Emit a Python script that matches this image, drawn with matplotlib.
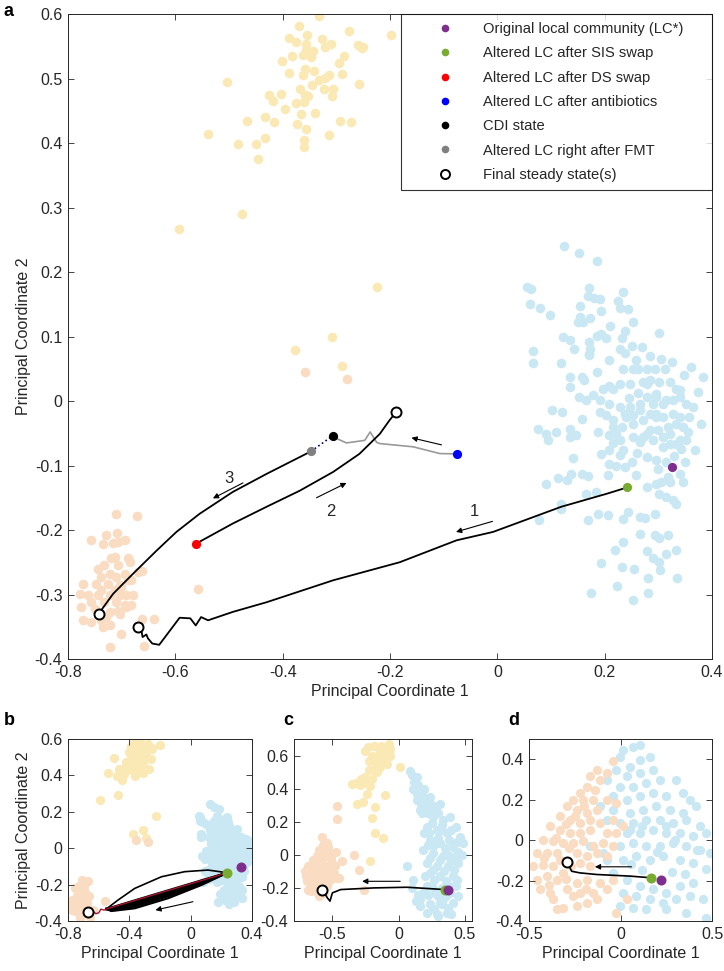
import numpy as np
import matplotlib
matplotlib.use('Agg')
import matplotlib.pyplot as plt
from matplotlib.lines import Line2D

plt.rcParams['font.family'] = ['Liberation Sans', 'DejaVu Sans']
plt.rcParams['axes.unicode_minus'] = False

YEL = '#FBE9B5'
PEA = '#F9DCC2'
BLU = '#C9E8F4'
PURPLE = '#7E2F8E'
GREEN = '#77AC30'
TXT = '#262626'
FS = 11.5

# ---- PCoA clouds, panels a and b (same embedding) ----
yellow_ab = np.array([
    [-0.333, 0.597], [-0.370, 0.582], [-0.276, 0.573], [-0.199, 0.568], [-0.389, 0.563],
    [-0.376, 0.557], [-0.354, 0.567], [-0.327, 0.562], [-0.356, 0.554], [-0.310, 0.553],
    [-0.322, 0.549], [-0.260, 0.552], [-0.250, 0.549], [-0.252, 0.547], [-0.357, 0.544],
    [-0.343, 0.542], [-0.362, 0.537], [-0.347, 0.533], [-0.383, 0.535], [-0.286, 0.535],
    [-0.295, 0.524], [-0.402, 0.527], [-0.358, 0.515], [-0.341, 0.511], [-0.389, 0.508],
    [-0.363, 0.506], [-0.314, 0.506], [-0.289, 0.507], [-0.503, 0.495], [-0.332, 0.497],
    [-0.322, 0.501], [-0.345, 0.490], [-0.258, 0.491], [-0.367, 0.483], [-0.323, 0.483],
    [-0.307, 0.483], [-0.358, 0.474], [-0.352, 0.473], [-0.308, 0.473], [-0.425, 0.474],
    [-0.404, 0.476], [-0.418, 0.465], [-0.375, 0.462], [-0.361, 0.464], [-0.395, 0.452],
    [-0.339, 0.447], [-0.366, 0.445], [-0.432, 0.441], [-0.466, 0.434], [-0.416, 0.432],
    [-0.374, 0.429], [-0.294, 0.434], [-0.272, 0.433], [-0.357, 0.421], [-0.540, 0.414],
    [-0.314, 0.413], [-0.432, 0.407], [-0.361, 0.405], [-0.483, 0.399], [-0.450, 0.398],
    [-0.361, 0.394], [-0.446, 0.375], [-0.476, 0.290], [-0.593, 0.266], [-0.225, 0.177],
    [-0.309, 0.099], [-0.377, 0.079], [-0.290, 0.055]])

peach_ab = np.array([
    [-0.711, -0.175], [-0.671, -0.178], [-0.729, -0.208], [-0.708, -0.205], [-0.757, -0.216],
    [-0.735, -0.221], [-0.716, -0.220], [-0.707, -0.219], [-0.693, -0.215], [-0.719, -0.244],
    [-0.713, -0.242], [-0.688, -0.244], [-0.685, -0.249], [-0.732, -0.255], [-0.744, -0.260],
    [-0.707, -0.255], [-0.722, -0.268], [-0.738, -0.273], [-0.710, -0.273], [-0.694, -0.268],
    [-0.688, -0.278], [-0.682, -0.278], [-0.670, -0.265], [-0.663, -0.264], [-0.772, -0.283],
    [-0.747, -0.283], [-0.726, -0.283], [-0.704, -0.286], [-0.738, -0.293], [-0.713, -0.293],
    [-0.701, -0.288], [-0.778, -0.299], [-0.763, -0.301], [-0.744, -0.301], [-0.722, -0.301],
    [-0.704, -0.301], [-0.691, -0.301], [-0.679, -0.301], [-0.757, -0.312], [-0.732, -0.312],
    [-0.710, -0.312], [-0.694, -0.317], [-0.682, -0.317], [-0.775, -0.319], [-0.750, -0.322],
    [-0.722, -0.327], [-0.707, -0.325], [-0.691, -0.319], [-0.772, -0.340], [-0.757, -0.343],
    [-0.738, -0.340], [-0.729, -0.335], [-0.722, -0.348], [-0.735, -0.350], [-0.704, -0.330],
    [-0.663, -0.338], [-0.640, -0.338], [-0.701, -0.361], [-0.722, -0.381], [-0.658, -0.380],
    [-0.558, -0.292], [-0.359, 0.045], [-0.281, 0.034]])

blue_ab = np.array([
    [0.125, 0.241], [0.152, 0.229], [0.186, 0.217], [0.055, 0.177], [0.062, 0.173],
    [0.171, 0.175], [0.169, 0.163], [0.180, 0.160], [0.191, 0.158], [0.235, 0.169],
    [0.225, 0.155], [0.060, 0.151], [0.080, 0.144], [0.154, 0.147], [0.228, 0.144],
    [0.244, 0.142], [0.193, 0.140], [0.098, 0.133], [0.154, 0.131], [0.173, 0.129],
    [0.150, 0.123], [0.160, 0.122], [0.252, 0.122], [0.210, 0.117], [0.238, 0.109],
    [0.301, 0.105], [0.123, 0.100], [0.186, 0.101], [0.193, 0.104], [0.203, 0.098],
    [0.135, 0.094], [0.232, 0.097], [0.170, 0.092], [0.269, 0.084], [0.067, 0.077],
    [0.142, 0.080], [0.172, 0.081], [0.228, 0.080], [0.237, 0.074], [0.171, 0.073],
    [0.067, 0.059], [0.118, 0.059], [0.171, 0.071], [0.209, 0.064], [0.258, 0.063],
    [0.234, 0.050], [0.253, 0.050], [0.262, 0.050], [0.278, 0.050], [0.293, 0.050],
    [0.312, 0.049], [0.347, 0.041], [0.361, 0.053], [0.383, 0.037], [0.135, 0.037],
    [0.161, 0.032], [0.158, 0.037], [0.185, 0.045], [0.197, 0.019], [0.209, 0.024],
    [0.216, 0.019], [0.228, 0.027], [0.247, 0.027], [0.271, 0.029], [0.284, 0.032],
    [0.302, 0.029], [0.321, 0.029], [0.333, 0.019], [0.340, 0.017], [0.374, 0.014],
    [0.135, 0.022], [0.153, 0.006], [0.166, 0.001], [0.178, 0.009], [0.191, 0.001],
    [0.209, -0.004], [0.228, -0.009], [0.247, -0.009], [0.265, -0.004], [0.278, 0.006],
    [0.296, 0.006], [0.315, 0.001], [0.327, 0.001], [0.340, 0.006], [0.352, -0.004],
    [0.102, -0.014], [0.121, -0.017], [0.157, -0.028], [0.191, -0.017], [0.203, -0.022],
    [0.216, -0.030], [0.237, -0.020], [0.253, -0.022], [0.265, -0.014], [0.271, -0.030],
    [0.284, -0.020], [0.296, -0.020], [0.309, -0.025], [0.327, -0.020], [0.340, -0.025],
    [0.358, -0.025], [0.380, -0.035], [0.076, -0.043], [0.091, -0.051], [0.094, -0.061],
    [0.110, -0.048], [0.135, -0.043], [0.147, -0.053], [0.135, -0.056], [0.188, -0.048],
    [0.209, -0.053], [0.216, -0.040], [0.228, -0.061], [0.253, -0.056], [0.265, -0.064],
    [0.278, -0.051], [0.290, -0.061], [0.309, -0.056], [0.321, -0.066], [0.340, -0.061],
    [0.355, -0.048], [0.194, -0.082], [0.209, -0.076], [0.228, -0.084], [0.209, -0.097],
    [0.222, -0.100], [0.237, -0.102], [0.141, -0.088], [0.157, -0.113], [0.169, -0.117],
    [0.206, -0.115], [0.259, -0.115], [0.091, -0.128], [0.113, -0.120], [0.129, -0.123],
    [0.138, -0.113], [0.278, -0.133], [0.296, -0.128], [0.305, -0.126], [0.321, -0.126],
    [0.346, -0.126], [0.302, -0.144], [0.315, -0.149], [0.327, -0.154], [0.333, -0.159],
    [0.166, -0.144], [0.184, -0.141], [0.119, -0.159], [0.119, -0.167], [0.078, -0.185],
    [0.169, -0.184], [0.188, -0.175], [0.206, -0.177], [0.235, -0.183], [0.243, -0.172],
    [0.265, -0.180], [0.275, -0.182], [0.293, -0.175], [0.318, -0.208], [0.265, -0.206],
    [0.293, -0.208], [0.302, -0.213], [0.234, -0.219], [0.219, -0.231], [0.278, -0.233],
    [0.290, -0.244], [0.302, -0.250], [0.315, -0.237], [0.333, -0.231], [0.193, -0.251],
    [0.233, -0.257], [0.254, -0.260], [0.304, -0.262], [0.335, -0.275], [0.281, -0.275],
    [0.223, -0.287], [0.281, -0.297], [0.175, -0.297], [0.252, -0.308], [0.278, 0.027],
    [0.296, 0.011], [0.309, -0.004], [0.333, -0.035], [0.296, -0.025], [0.284, -0.045],
    [0.321, -0.051], [0.333, -0.066], [0.309, -0.071], [0.265, -0.061], [0.253, -0.035],
    [0.240, -0.025], [0.222, -0.051], [0.234, -0.076], [0.278, -0.087], [0.296, -0.092],
    [0.271, -0.056], [0.368, -0.076], [0.318, -0.118], [0.340, -0.113], [0.300, -0.105],
    [0.330, -0.085], [0.350, -0.095], [0.285, 0.070], [0.305, 0.065], [0.325, 0.060],
    [0.290, -0.005], [0.318, -0.040], [0.346, -0.040], [0.300, -0.045], [0.260, -0.080],
    [0.250, -0.095], [0.315, -0.095], [0.343, -0.075], [0.352, -0.060], [0.365, -0.010],
    [0.245, 0.005], [0.262, 0.012], [0.232, -0.040], [0.215, -0.065], [0.250, 0.085]])

# ---- panel c clouds ----
yellow_c = np.array([
    [-0.188, 0.66], [-0.138, 0.63], [-0.088, 0.654], [-0.063, 0.64], [-0.113, 0.59],
    [-0.163, 0.57], [-0.088, 0.55], [-0.138, 0.53], [-0.188, 0.51], [-0.225, 0.57],
    [-0.25, 0.63], [-0.063, 0.60], [0.008, 0.53], [-0.263, 0.45], [-0.325, 0.434],
    [-0.213, 0.414], [-0.238, 0.37], [-0.313, 0.31], [-0.105, 0.36], [-0.175, 0.29],
    [-0.2, 0.22], [-0.175, 0.134], [-0.118, 0.10], [-0.213, -0.04], [-0.288, 0.42],
    [-0.15, 0.61], [-0.10, 0.62], [-0.20, 0.60], [-0.12, 0.56], [-0.17, 0.54],
    [-0.22, 0.51], [-0.25, 0.47], [-0.28, 0.46], [-0.20, 0.46], [-0.23, 0.43],
    [-0.16, 0.50], [-0.07, 0.67], [-0.13, 0.66], [-0.23, 0.65], [-0.30, 0.44],
    [-0.35, 0.43], [-0.27, 0.32]])
peach_c = np.array([
    [-0.4625, 0.296], [-0.4675, 0.214], [-0.575, 0.11], [-0.5375, 0.07], [-0.475, 0.02],
    [-0.425, -0.04], [-0.3375, 0.0], [-0.3, -0.09], [-0.2625, -0.21], [-0.6875, -0.07],
    [-0.65, -0.03], [-0.6125, -0.01], [-0.575, 0.01], [-0.55, 0.03], [-0.525, 0.02],
    [-0.5125, -0.02], [-0.6375, -0.11], [-0.5875, -0.09], [-0.5375, -0.07], [-0.4875, -0.11],
    [-0.7, -0.13], [-0.6625, -0.16], [-0.6125, -0.15], [-0.5625, -0.14], [-0.525, -0.16],
    [-0.6875, -0.21], [-0.625, -0.22], [-0.6, -0.25], [-0.475, -0.14], [-0.65, -0.18],
    [-0.62, -0.06], [-0.58, -0.04], [-0.55, -0.01], [-0.66, -0.09], [-0.60, -0.12],
    [-0.56, -0.11], [-0.52, -0.09], [-0.50, -0.05], [-0.64, -0.14], [-0.58, -0.17],
    [-0.54, -0.19], [-0.62, -0.19], [-0.66, -0.22], [-0.56, -0.23], [-0.57, 0.06],
    [-0.53, 0.05], [-0.60, 0.03], [-0.71, -0.10], [-0.69, -0.16], [-0.48, -0.07],
    [-0.45, -0.14], [-0.52, -0.13]])
blue_c = np.array([
    [0.0875, 0.504], [0.1375, 0.47], [0.1125, 0.40], [0.175, 0.36], [0.2375, 0.35],
    [0.1375, 0.33], [0.2125, 0.29], [0.3125, 0.31], [0.175, 0.25], [0.2625, 0.23],
    [0.3375, 0.21], [0.3875, 0.23], [0.4375, 0.17], [0.2125, 0.17], [0.2875, 0.15],
    [0.3625, 0.13], [0.4625, 0.11], [0.2375, 0.09], [0.3125, 0.07], [0.4125, 0.05],
    [0.4875, 0.07], [0.1875, 0.03], [0.2625, 0.01], [0.3375, -0.01], [0.425, -0.01],
    [0.2125, -0.05], [0.2875, -0.07], [0.375, -0.07], [0.45, -0.05], [0.2375, -0.11],
    [0.3125, -0.13], [0.4125, -0.13], [0.0625, -0.07], [0.1125, -0.15], [0.2125, -0.19],
    [0.275, -0.23], [0.3875, -0.23], [0.4375, -0.19], [0.1625, -0.27], [0.3125, -0.29],
    [0.4125, -0.29], [0.2125, -0.35], [0.2875, -0.36], [0.3625, -0.35], [0.1625, -0.31],
    [0.3375, -0.27], [0.10, 0.48], [0.12, 0.44], [0.15, 0.42], [0.19, 0.40],
    [0.14, 0.37], [0.21, 0.33], [0.17, 0.31], [0.25, 0.30], [0.28, 0.27],
    [0.16, 0.27], [0.22, 0.25], [0.30, 0.25], [0.33, 0.18], [0.25, 0.19],
    [0.19, 0.13], [0.23, 0.13], [0.32, 0.15], [0.40, 0.15], [0.44, 0.08],
    [0.27, 0.06], [0.35, 0.04], [0.38, 0.09], [0.22, 0.06], [0.30, 0.10],
    [0.45, 0.02], [0.37, 0.00], [0.24, -0.02], [0.31, -0.03], [0.40, -0.04],
    [0.26, -0.09], [0.34, -0.10], [0.42, -0.09], [0.20, -0.13], [0.27, -0.15],
    [0.36, -0.16], [0.44, -0.15], [0.25, -0.19], [0.33, -0.20], [0.41, -0.19],
    [0.30, -0.25], [0.36, -0.25], [0.22, -0.24], [0.24, -0.30], [0.37, -0.32],
    [0.27, -0.33], [0.33, -0.30], [0.19, -0.22], [0.15, -0.24], [0.10, -0.20],
    [0.13, -0.28], [0.40, -0.36], [0.30, -0.37], [0.45, -0.25], [0.48, 0.00]])

# ---- panel d clouds ----
peach_d = np.array([
    [-0.040, 0.389], [-0.076, 0.331], [-0.131, 0.347], [-0.167, 0.315], [-0.113, 0.298],
    [-0.185, 0.265], [-0.140, 0.249], [-0.222, 0.232], [-0.258, 0.200], [-0.204, 0.200],
    [-0.149, 0.200], [-0.076, 0.200], [-0.022, 0.183], [-0.295, 0.167], [-0.240, 0.150],
    [-0.185, 0.134], [-0.131, 0.150], [-0.331, 0.117], [-0.276, 0.101], [-0.222, 0.085],
    [-0.167, 0.101], [-0.113, 0.085], [-0.040, 0.101], [0.015, 0.068], [-0.385, 0.068],
    [-0.331, 0.052], [-0.276, 0.035], [-0.222, 0.035], [-0.167, 0.052], [-0.076, 0.035],
    [-0.022, 0.035], [-0.422, 0.002], [-0.367, -0.006], [-0.313, -0.014], [-0.258, -0.014],
    [-0.204, -0.006], [-0.149, -0.030], [-0.095, -0.014], [-0.040, -0.030], [-0.458, -0.063],
    [-0.404, -0.063], [-0.349, -0.063], [-0.240, -0.063], [-0.185, -0.080], [-0.131, -0.063],
    [-0.076, -0.080], [-0.476, -0.129], [-0.422, -0.121], [-0.367, -0.129], [-0.313, -0.162],
    [-0.222, -0.113], [-0.167, -0.129], [-0.458, -0.195], [-0.404, -0.178], [-0.349, -0.195],
    [-0.240, -0.211], [-0.185, -0.195], [-0.113, -0.211], [-0.040, -0.195], [-0.440, -0.244],
    [-0.385, -0.260], [-0.295, -0.244], [-0.222, -0.260], [-0.149, -0.260], [-0.076, -0.244],
    [-0.367, -0.293], [-0.258, -0.277], [-0.185, -0.310], [-0.131, -0.293], [-0.349, -0.343],
    [-0.313, -0.334], [-0.240, -0.326], [-0.022, -0.359], [0.033, -0.293], [-0.300, 0.080],
    [-0.250, 0.120], [-0.200, 0.170], [-0.350, 0.010], [-0.280, -0.040], [-0.420, -0.090],
    [-0.330, -0.100], [-0.270, -0.130], [-0.390, -0.220], [-0.300, -0.190], [-0.190, -0.240]])
blue_d = np.array([
    [0.105, 0.471], [0.069, 0.462], [0.015, 0.446], [-0.004, 0.413], [0.105, 0.397],
    [0.160, 0.413], [0.051, 0.364], [-0.022, 0.347], [0.033, 0.315], [0.105, 0.331],
    [0.178, 0.347], [-0.076, 0.298], [-0.004, 0.265], [0.069, 0.265], [0.142, 0.282],
    [0.215, 0.298], [0.305, 0.298], [0.342, 0.232], [-0.040, 0.216], [0.033, 0.200],
    [0.105, 0.216], [0.178, 0.232], [0.251, 0.216], [0.378, 0.200], [-0.113, 0.167],
    [-0.040, 0.150], [0.051, 0.134], [0.124, 0.150], [0.196, 0.167], [0.269, 0.150],
    [0.342, 0.134], [0.415, 0.167], [-0.076, 0.101], [-0.004, 0.085], [0.069, 0.085],
    [0.142, 0.101], [0.215, 0.101], [0.287, 0.085], [0.360, 0.101], [0.433, 0.068],
    [0.033, 0.035], [0.105, 0.035], [0.178, 0.052], [0.251, 0.035], [0.324, 0.035],
    [0.396, 0.019], [0.469, 0.035], [-0.004, -0.030], [0.069, -0.014], [0.142, -0.030],
    [0.215, -0.030], [0.287, -0.014], [0.360, -0.030], [0.433, -0.047], [0.487, -0.063],
    [-0.076, -0.096], [0.015, -0.096], [0.087, -0.080], [0.160, -0.096], [0.233, -0.080],
    [0.324, -0.096], [0.396, -0.113], [0.469, -0.145], [-0.040, -0.162], [0.033, -0.195],
    [0.105, -0.228], [0.178, -0.244], [0.251, -0.260], [0.324, -0.228], [0.396, -0.211],
    [0.015, -0.260], [0.087, -0.277], [0.160, -0.293], [0.233, -0.310], [0.305, -0.293],
    [0.378, -0.277], [0.451, -0.293], [-0.004, -0.326], [0.069, -0.334], [0.142, -0.343],
    [0.251, -0.343], [0.360, -0.359], [0.469, -0.384], [-0.167, -0.030], [-0.095, -0.063],
    [0.050, 0.050], [0.120, 0.070], [0.250, 0.070], [0.300, 0.000], [0.200, -0.060],
    [0.120, -0.150], [0.280, -0.160], [0.350, -0.170], [0.420, -0.050], [0.060, -0.120]])

# ---- panel a states and trajectories ----
lc_star_a = (0.325, -0.102)
sis_a = (0.242, -0.134)
ds_a = (-0.561, -0.221)
abx_a = (-0.075, -0.082)
cdi_a = (-0.307, -0.054)
fmt_a = (-0.347, -0.078)
final_a_x = [-0.743, -0.670, -0.189]
final_a_y = [-0.330, -0.350, -0.0175]

traj1_x = [0.242, 0.203, 0.119, -0.008, -0.076, -0.182, -0.306, -0.430, -0.493, -0.539,
           -0.552, -0.562, -0.572, -0.592, -0.630, -0.643, -0.651, -0.654, -0.661, -0.663, -0.670]
traj1_y = [-0.134, -0.144, -0.164, -0.203, -0.216, -0.250, -0.278, -0.312, -0.327, -0.340,
           -0.335, -0.348, -0.337, -0.336, -0.378, -0.376, -0.368, -0.362, -0.366, -0.357, -0.350]
traj2_x = [-0.561, -0.493, -0.430, -0.368, -0.306, -0.257, -0.219, -0.201, -0.189]
traj2_y = [-0.221, -0.190, -0.164, -0.139, -0.110, -0.082, -0.051, -0.030, -0.0175]
traj3_x = [-0.347, -0.430, -0.493, -0.555, -0.598, -0.635, -0.679, -0.716, -0.743]
traj3_y = [-0.078, -0.113, -0.141, -0.175, -0.203, -0.232, -0.268, -0.299, -0.330]
abx_path_x = [-0.075, -0.107, -0.157, -0.219, -0.225, -0.237, -0.247, -0.281, -0.300, -0.307]
abx_path_y = [-0.082, -0.0815, -0.071, -0.066, -0.064, -0.048, -0.061, -0.065, -0.058, -0.054]

# ---- panel b ----
b_top_x = [0.239, 0.113, -0.039, -0.191, -0.365, -0.474, -0.550]
b_top_y = [-0.135, -0.120, -0.129, -0.157, -0.221, -0.285, -0.334]
b_bundle_x = [0.239, 0.070, -0.148, -0.365, -0.517, -0.550]
b_bundle_y = [[-0.135, -0.177, -0.232, -0.287, -0.326, -0.334],
              [-0.135, -0.180, -0.237, -0.292, -0.328, -0.334],
              [-0.135, -0.184, -0.243, -0.298, -0.331, -0.334],
              [-0.135, -0.188, -0.250, -0.306, -0.335, -0.334],
              [-0.135, -0.192, -0.257, -0.313, -0.338, -0.334],
              [-0.135, -0.196, -0.264, -0.320, -0.341, -0.334],
              [-0.135, -0.202, -0.275, -0.330, -0.345, -0.334]]
b_red_x = [0.239, -0.550, -0.565, -0.585, -0.600, -0.618, -0.640, -0.670]
b_red_y = [-0.135, -0.334, -0.340, -0.335, -0.355, -0.360, -0.345, -0.349]
lc_star_b = (0.325, -0.102)
sis_b = (0.239, -0.135)
final_b = (-0.670, -0.349)

# ---- panel c ----
c_path_x = [0.350, 0.0625, -0.1875, -0.4375, -0.500, -0.518, -0.538, -0.575]
c_path_y = [-0.210, -0.196, -0.200, -0.210, -0.230, -0.280, -0.260, -0.210]
lc_star_c = (0.375, -0.214)
sis_c = (0.350, -0.210)
final_c = (-0.575, -0.210)

# ---- panel d ----
d_path_x = [0.164, 0.051, -0.131, -0.222, -0.267, -0.280, -0.291]
d_path_y = [-0.186, -0.178, -0.170, -0.162, -0.154, -0.129, -0.109]
lc_star_d = (0.224, -0.198)
sis_d = (0.164, -0.186)
final_d = (-0.291, -0.109)

W, H = 724, 971
fig = plt.figure(figsize=(W / 100, H / 100), dpi=100)


def make_ax(l, t, r, b):
    ax = fig.add_axes([l / W, 1 - b / H, (r - l) / W, (b - t) / H])
    ax.tick_params(direction='in', top=True, right=True, length=4, width=0.6,
                   colors=TXT, labelsize=FS, pad=4)
    for s in ax.spines.values():
        s.set_linewidth(0.7)
        s.set_color(TXT)
    return ax


def clouds(ax, pts_list, s):
    for pts, col in pts_list:
        ax.scatter(pts[:, 0], pts[:, 1], s=s, c=col, linewidths=0, zorder=1)


def arrow(ax, x0, y0, x1, y1):
    ax.annotate('', xy=(x1, y1), xytext=(x0, y0),
                arrowprops=dict(arrowstyle='-|>', color='k', lw=0.8,
                                mutation_scale=8, shrinkA=0, shrinkB=0), zorder=6)


def dot(ax, p, col, s=44):
    ax.scatter([p[0]], [p[1]], s=s, c=col, linewidths=0, zorder=7)


def ring(ax, x, y, s=42):
    ax.scatter(x, y, s=s, facecolors='white', edgecolors='k', linewidths=1.4, zorder=8)


# ---------------- panel a ----------------
ax = make_ax(68, 14, 712, 659)
clouds(ax, [(yellow_ab, YEL), (peach_ab, PEA), (blue_ab, BLU)], 48)
ax.plot(abx_path_x, abx_path_y, color='#999999', lw=1.2, zorder=3)
ax.plot([fmt_a[0], cdi_a[0]], [fmt_a[1], cdi_a[1]], color='#000080', lw=1.2, ls=':', zorder=3)
ax.plot(traj1_x, traj1_y, 'k', lw=1.3, zorder=4)
ax.plot(traj2_x, traj2_y, 'k', lw=1.3, zorder=4)
ax.plot(traj3_x, traj3_y, 'k', lw=1.3, zorder=4)
dot(ax, lc_star_a, PURPLE)
dot(ax, sis_a, GREEN)
dot(ax, ds_a, 'red')
dot(ax, abx_a, 'blue')
dot(ax, cdi_a, 'black')
dot(ax, fmt_a, 'gray')
ring(ax, final_a_x, final_a_y, 52)
arrow(ax, -0.009, -0.1866, -0.077, -0.203)
arrow(ax, -0.337, -0.150, -0.281, -0.127)
arrow(ax, -0.474, -0.127, -0.530, -0.151)
arrow(ax, -0.104, -0.068, -0.160, -0.057)
ax.text(-0.042, -0.171, '1', fontsize=12, ha='center', va='center', color=TXT)
ax.text(-0.310, -0.172, '2', fontsize=12, ha='center', va='center', color=TXT)
ax.text(-0.501, -0.120, '3', fontsize=12, ha='center', va='center', color=TXT)
ax.set_xlim(-0.8, 0.4)
ax.set_ylim(-0.4, 0.6)
ax.set_xticks(np.arange(-0.8, 0.41, 0.2))
ax.set_xticklabels(['-0.8', '-0.6', '-0.4', '-0.2', '0', '0.2', '0.4'])
ax.set_yticks(np.arange(-0.4, 0.61, 0.1))
ax.set_yticklabels(['-0.4', '-0.3', '-0.2', '-0.1', '0', '0.1', '0.2', '0.3', '0.4', '0.5', '0.6'])
ax.set_xlabel('Principal Coordinate 1', fontsize=FS, color=TXT, labelpad=3)
ax.set_ylabel('Principal Coordinate 2', fontsize=FS, color=TXT, labelpad=3)

legend_labels = ['Original local community (LC*)', 'Altered LC after SIS swap',
                 'Altered LC after DS swap', 'Altered LC after antibiotics', 'CDI state',
                 'Altered LC right after FMT', 'Final steady state(s)']
legend_colors = [PURPLE, GREEN, 'red', 'blue', 'black', 'gray', 'white']
handles = []
for lab, col in zip(legend_labels, legend_colors):
    ec = 'k' if col == 'white' else col
    handles.append(Line2D([], [], marker='o', ls='none', markersize=5.5 if col != 'white' else 6.5,
                          markerfacecolor=col, markeredgecolor=ec,
                          markeredgewidth=1.4 if col == 'white' else 0))
leg_left = (401 - 68) / 644
leg = ax.legend(handles, legend_labels, loc='upper left', bbox_to_anchor=(leg_left, 0, 1 - leg_left, 1),
                mode='expand', borderaxespad=0, fontsize=10.6, frameon=True, fancybox=False,
                handlelength=4.9, handletextpad=0.1, labelspacing=0.7,
                borderpad=0.55, edgecolor='k')
leg.get_frame().set_linewidth(0.8)
for t in leg.get_texts():
    t.set_color(TXT)

# ---------------- panel b ----------------
ax = make_ax(68, 739, 252, 921)
clouds(ax, [(yellow_ab, YEL), (peach_ab, PEA), (blue_ab, BLU)], 44)
ax.plot(b_top_x, b_top_y, 'k', lw=1.2, zorder=4)
for yy in b_bundle_y:
    ax.plot(b_bundle_x, yy, 'k', lw=1.6, zorder=4)
ax.plot(b_red_x, b_red_y, color='#A2142F', lw=1.0, zorder=5)
dot(ax, lc_star_b, PURPLE, 52)
dot(ax, sis_b, GREEN, 52)
ring(ax, [final_b[0]], [final_b[1]], 52)
arrow(ax, 0.015, -0.294, -0.230, -0.340)
ax.set_xlim(-0.8, 0.4)
ax.set_ylim(-0.4, 0.6)
ax.set_xticks([-0.8, -0.4, 0, 0.4])
ax.set_xticklabels(['-0.8', '-0.4', '0', '0.4'])
ax.set_yticks([-0.4, -0.2, 0, 0.2, 0.4, 0.6])
ax.set_yticklabels(['-0.4', '-0.2', '0', '0.2', '0.4', '0.6'])
ax.set_xlabel('Principal Coordinate 1', fontsize=FS, color=TXT, labelpad=3)
ax.set_ylabel('Principal Coordinate 2', fontsize=FS, color=TXT, labelpad=3)

# ---------------- panel c ----------------
ax = make_ax(294, 739, 472, 921)
clouds(ax, [(yellow_c, YEL), (peach_c, PEA), (blue_c, BLU)], 44)
ax.plot(c_path_x, c_path_y, 'k', lw=1.2, zorder=4)
dot(ax, sis_c, GREEN, 52)
dot(ax, lc_star_c, PURPLE, 52)
ring(ax, [final_c[0]], [final_c[1]], 52)
arrow(ax, 0.0125, -0.16, -0.275, -0.16)
ax.set_xlim(-0.79, 0.555)
ax.set_ylim(-0.4, 0.7)
ax.set_xticks([-0.5, 0, 0.5])
ax.set_xticklabels(['-0.5', '0', '0.5'])
ax.set_yticks([-0.4, -0.2, 0, 0.2, 0.4, 0.6])
ax.set_yticklabels(['-0.4', '-0.2', '0', '0.2', '0.4', '0.6'])
ax.set_xlabel('Principal Coordinate 1', fontsize=FS, color=TXT, labelpad=3)

# ---------------- panel d ----------------
ax = make_ax(529, 739, 712, 921)
clouds(ax, [(blue_d, BLU), (peach_d, PEA)], 44)
ax.plot(d_path_x, d_path_y, 'k', lw=1.2, zorder=4)
dot(ax, sis_d, GREEN, 52)
dot(ax, lc_star_d, PURPLE, 52)
ring(ax, [final_d[0]], [final_d[1]], 52)
arrow(ax, 0.060, -0.132, -0.140, -0.132)
ax.set_xlim(-0.5, 0.5)
ax.set_ylim(-0.4, 0.5)
ax.set_xticks([-0.5, 0, 0.5])
ax.set_xticklabels(['-0.5', '0', '0.5'])
ax.set_yticks([-0.4, -0.2, 0, 0.2, 0.4])
ax.set_yticklabels(['-0.4', '-0.2', '0', '0.2', '0.4'])
ax.set_xlabel('Principal Coordinate 1', fontsize=FS, color=TXT, labelpad=3)

for lab, x, y in [('a', 4, 3), ('b', 4, 712), ('c', 283, 712), ('d', 508, 712)]:
    fig.text(x / W, 1 - y / H, lab, fontsize=13, fontweight='bold', ha='left', va='top')

fig.savefig('out.png', dpi=100)
